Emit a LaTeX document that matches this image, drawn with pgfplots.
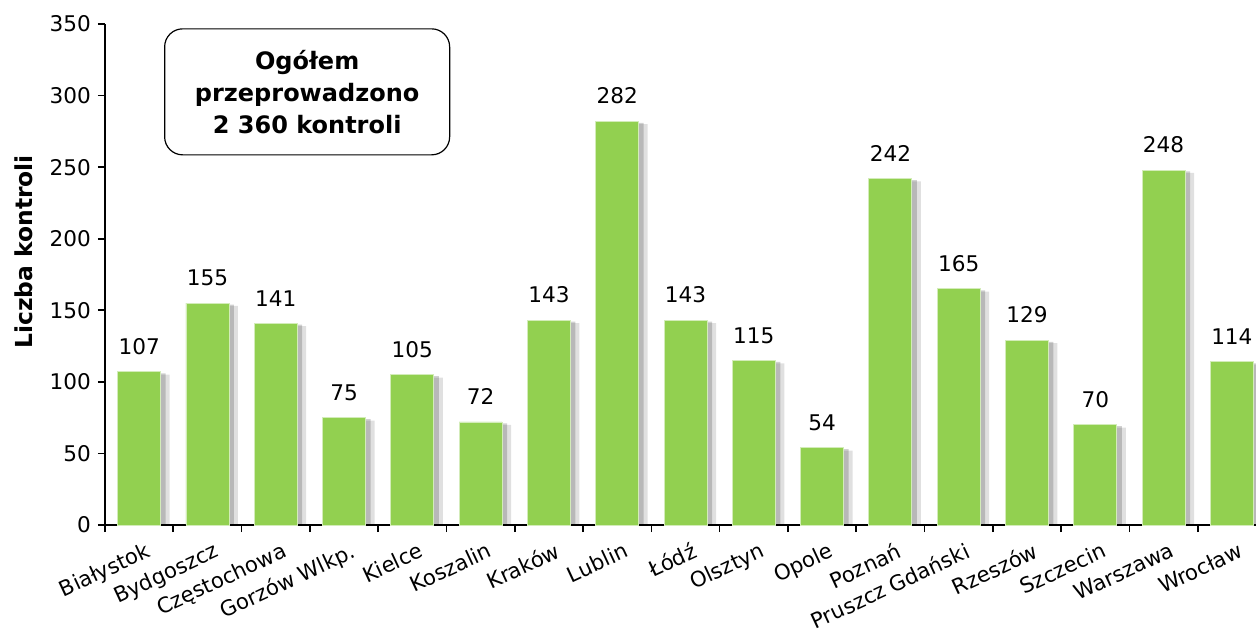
\documentclass[border=0pt]{standalone}
\usepackage{pgfplots}
\pgfplotsset{compat=1.18}
\usepackage{fontspec}
\setmainfont{DejaVu Sans}
\definecolor{barg}{HTML}{92D050}
\begin{document}
\begin{tikzpicture}
\begin{axis}[
  at={(0,0)}, anchor=south west,
  scale only axis, width=580.5pt, height=250.5pt,
  xmin=-0.5, xmax=16.5, ymin=0, ymax=350,
  axis lines*=left,
  axis line style={line width=0.8pt},
  ybar,
  ytick={0,50,...,350},
  xtick={-0.5,0.5,...,16.5},
  x tick label as interval,
  xticklabels={Białystok,Bydgoszcz,Częstochowa,Gorzów Wlkp.,Kielce,Koszalin,Kraków,Lublin,Łódź,Olsztyn,Opole,Poznań,Pruszcz Gdański,Rzeszów,Szczecin,Warszawa,Wrocław},
  xticklabel style={rotate=25, anchor=north east, font=\fontsize{10.6}{12}\selectfont, xshift=4pt, yshift=-2pt},
  yticklabel style={font=\fontsize{10.8}{12}\selectfont},
  tick align=outside,
  major tick length=3.5pt,
  tick style={black, line width=0.8pt},
  /pgf/number format/assume math mode=true,
  ylabel={\bfseries Liczba kontroli},
  ylabel style={font=\fontsize{11.7}{12}\selectfont, at={(axis description cs:-0.0698,0.545)}, anchor=center},
  clip=false,
]
\addplot[bar width=21.5pt, bar shift=4.5pt, fill=black, opacity=0.12, draw=none] coordinates {(0,105)(1,153)(2,139)(3,73)(4,103)(5,70)(6,141)(7,280)(8,141)(9,113)(10,52)(11,240)(12,163)(13,127)(14,68)(15,246)(16,112)};
\addplot[bar width=21.5pt, bar shift=2.5pt, fill=black, opacity=0.18, draw=none] coordinates {(0,106)(1,154)(2,140)(3,74)(4,104)(5,71)(6,142)(7,281)(8,142)(9,114)(10,53)(11,241)(12,164)(13,128)(14,69)(15,247)(16,113)};
\addplot[bar width=21.5pt, bar shift=0pt, fill=barg, draw=white!60!barg, line width=0.4pt,
  nodes near coords, nodes near coords style={font=\fontsize{10.8}{12}\selectfont, anchor=south, yshift=5pt}] coordinates {(0,107)(1,155)(2,141)(3,75)(4,105)(5,72)(6,143)(7,282)(8,143)(9,115)(10,54)(11,242)(12,165)(13,129)(14,70)(15,248)(16,114)};
\node[draw=black, line width=0.6pt, rounded corners=9pt, minimum width=142.5pt, minimum height=63pt, align=center, font=\bfseries\fontsize{12}{16}\selectfont] at (axis cs:2.46,302.6) {Ogółem\\przeprowadzono\\2 360 kontroli};
\end{axis}
\pgfresetboundingbox
\path (-52.5pt,-51.5pt) rectangle (575.5pt,262.5pt);
\end{tikzpicture}
\end{document}
